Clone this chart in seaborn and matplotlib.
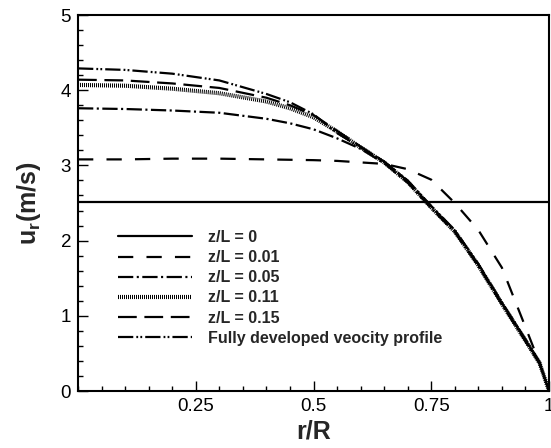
import numpy as np
import pandas as pd
import seaborn as sns
import matplotlib
matplotlib.use("Agg")
import matplotlib.pyplot as plt
from matplotlib.ticker import MultipleLocator, FixedLocator, FixedFormatter

# ---- data ----
r_flat = [0.0, 1.0]
u_z0 = [2.52, 2.52]

r_001 = [0.0, 0.1, 0.2, 0.3, 0.4, 0.5, 0.55, 0.6, 0.65, 0.7, 0.75, 0.8, 0.85, 0.9, 0.95, 0.975, 1.0]
u_001 = [3.08, 3.08, 3.09, 3.09, 3.08, 3.07, 3.06, 3.04, 3.02, 2.95, 2.81, 2.50, 2.14, 1.64, 0.85, 0.45, 0.0]

r_dev = [0.0, 0.1, 0.2, 0.3, 0.4, 0.45, 0.5, 0.55, 0.6, 0.65, 0.7, 0.75, 0.8, 0.85, 0.9, 0.95, 0.98, 1.0]
u_005 = [3.76, 3.75, 3.73, 3.70, 3.62, 3.56, 3.48, 3.36, 3.22, 3.03, 2.77, 2.43, 2.11, 1.66, 1.15, 0.66, 0.36, 0.0]
u_011 = [4.07, 4.06, 4.02, 3.96, 3.85, 3.76, 3.64, 3.45, 3.24, 3.04, 2.78, 2.44, 2.12, 1.67, 1.16, 0.67, 0.37, 0.0]
u_015 = [4.14, 4.13, 4.09, 4.03, 3.90, 3.80, 3.67, 3.46, 3.25, 3.05, 2.79, 2.45, 2.13, 1.68, 1.17, 0.68, 0.38, 0.0]
u_fd  = [4.29, 4.27, 4.22, 4.13, 3.95, 3.84, 3.68, 3.43, 3.24, 3.05, 2.80, 2.46, 2.14, 1.69, 1.18, 0.69, 0.39, 0.0]

labels = ["z/L = 0", "z/L = 0.01", "z/L = 0.05", "z/L = 0.11", "z/L = 0.15",
          "Fully developed veocity profile"]
x_ticks = [0.25, 0.5, 0.75, 1.0]
x_tick_labels = ["0.25", "0.5", "0.75", "1"]
y_ticks = [0, 1, 2, 3, 4, 5]

# ---- style ----
sns.set_style("ticks")
plt.rcParams["font.family"] = ["Liberation Sans", "DejaVu Sans"]
plt.rcParams["mathtext.fontset"] = "custom"
plt.rcParams["mathtext.rm"] = "Liberation Sans:bold"
plt.rcParams["mathtext.default"] = "rm"
plt.rcParams["lines.scale_dashes"] = False

fig = plt.figure(figsize=(5.51, 4.48), dpi=100)
ax = fig.add_axes([0.1416, 0.1272, 0.9964 - 0.1416, 0.9665 - 0.1272])

series = [
    (r_flat, u_z0, "-", 1.6),
    (r_001, u_001, (0, (11, 9.5)), 1.6),
    (r_dev, u_005, (0, (11, 2.5, 1.5, 2.5)), 1.6),
    (r_dev, u_011, (0, (0.72, 0.72)), 3.0),
    (r_dev, u_015, (0, (13.5, 5.5)), 1.6),
    (r_dev, u_fd, (0, (11, 2.2, 1.3, 1.6, 1.3, 2.2)), 1.6),
]
for (xs, ys, ls, lw), lab in zip(series, labels):
    df = pd.DataFrame({"r": xs, "u": ys})
    sns.lineplot(data=df, x="r", y="u", ax=ax, color="black", linestyle=ls,
                 linewidth=lw, label=lab, sort=False, estimator=None)

ax.set_xlim(0, 1)
ax.set_ylim(0, 5)
ax.xaxis.set_major_locator(FixedLocator(x_ticks))
ax.xaxis.set_major_formatter(FixedFormatter(x_tick_labels))
ax.xaxis.set_minor_locator(MultipleLocator(0.05))
ax.yaxis.set_major_locator(FixedLocator(y_ticks))
ax.yaxis.set_minor_locator(MultipleLocator(0.2))
ax.tick_params(which="both", direction="in", top=False, right=False,
               labelsize=13.5, width=1.0, color="black", labelcolor="black", pad=5)
ax.tick_params(which="major", length=7)
ax.tick_params(which="minor", length=3.5)
for sp in ax.spines.values():
    sp.set_linewidth(1.5)
    sp.set_color("black")

ax.set_xlabel("r/R", fontsize=18, fontweight="bold", labelpad=3)
ax.set_ylabel("u$_{\\mathrm{r}}$(m/s)", fontsize=18, fontweight="bold", labelpad=13)

leg = ax.legend(loc="upper left", bbox_to_anchor=(0.085, 0.428), frameon=False,
                borderpad=0, borderaxespad=0, handlelength=4.6, handletextpad=1.0,
                labelspacing=0.32, prop={"size": 11.5, "weight": "bold"})

fig.savefig("out.png", dpi=100)
